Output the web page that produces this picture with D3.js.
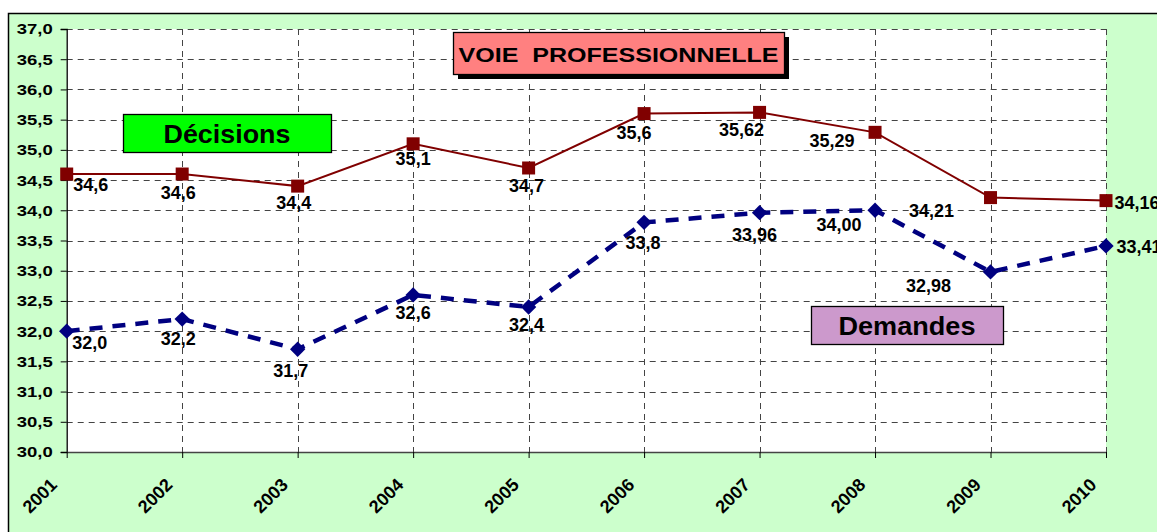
<!DOCTYPE html>
<html>
<head>
<meta charset="utf-8">
<script src="https://cdn.jsdelivr.net/npm/d3@7"></script>
<style>
  body { margin: 0; background: #fff; }
  svg text { font-family: "Liberation Sans", Arial, sans-serif; font-weight: bold; }
</style>
</head>
<body>
<svg id="chart" width="1157" height="532"></svg>
<script>
var years = ["2001", "2002", "2003", "2004", "2005", "2006", "2007", "2008", "2009", "2010"];
var decisions = [34.6, 34.6, 34.4, 35.1, 34.7, 35.6, 35.62, 35.29, 34.21, 34.16];
var demandes = [32.0, 32.2, 31.7, 32.6, 32.4, 33.8, 33.96, 34.00, 32.98, 33.41];
var decisionLabels = ["34,6", "34,6", "34,4", "35,1", "34,7", "35,6", "35,62", "35,29", "34,21", "34,16"];
var demandeLabels = ["32,0", "32,2", "31,7", "32,6", "32,4", "33,8", "33,96", "34,00", "32,98", "33,41"];
var yTicks = [30, 30.5, 31, 31.5, 32, 32.5, 33, 33.5, 34, 34.5, 35, 35.5, 36, 36.5, 37];

// label offsets (dx, dy) from the point, Excel-style manual placement
var decOff = [[24, 11], [-4, 19], [-4, 17], [0, 15], [-2, 18], [-10, 19], [-18, 18], [-43, 9], [-59, 13], [31, 2]];
var demOff = [[23, 12], [-4, 20], [-7, 22], [0, 18], [-2, 18], [-1, 21], [-5, 22], [-36, 15], [-62, 14], [33, 1]];

var svg = d3.select("#chart");
var pLeft = 66.7, pRight = 1106, pTop = 29, pBottom = 452;

// outer chart area
svg.append("rect").attr("x", 8.5).attr("y", 13.5).attr("width", 1170).attr("height", 540)
  .attr("fill", "#ccffcc").attr("stroke", "#000").attr("stroke-width", 1.5);

var x = d3.scalePoint().domain(years).range([pLeft, pRight]);
var y = d3.scaleLinear().domain([30, 37]).range([pBottom, pTop]);

svg.append("rect").attr("x", pLeft).attr("y", pTop).attr("width", pRight - pLeft).attr("height", pBottom - pTop)
  .attr("fill", "#fff");

// grid
svg.append("g").selectAll("line").data(yTicks.slice(1)).enter().append("line")
  .attr("x1", pLeft).attr("x2", pRight)
  .attr("y1", function(d) { return Math.round(y(d)) + 0.5; })
  .attr("y2", function(d) { return Math.round(y(d)) + 0.5; })
  .attr("stroke", "#444").attr("stroke-dasharray", "6,5");
svg.append("g").selectAll("line").data(years.slice(1)).enter().append("line")
  .attr("x1", function(d) { return Math.round(x(d)) + 0.5; })
  .attr("x2", function(d) { return Math.round(x(d)) + 0.5; })
  .attr("y1", pTop).attr("y2", pBottom)
  .attr("stroke", "#444").attr("stroke-dasharray", "6,5");

// axes
var yAxis = svg.append("g").attr("transform", "translate(" + pLeft + ",0)")
  .call(d3.axisLeft(y).tickValues(yTicks).tickSize(6).tickPadding(8)
    .tickFormat(function(d) { return d3.format(".1f")(d).replace(".", ","); }));
yAxis.select(".domain").attr("stroke", "#000").attr("stroke-width", 1.3);
yAxis.selectAll("text").attr("font-size", 15.5).attr("fill", "#000")
  .attr("textLength", 36).attr("lengthAdjust", "spacingAndGlyphs");

var xAxis = svg.append("g").attr("transform", "translate(0," + pBottom + ")")
  .call(d3.axisBottom(x).tickSize(6).tickSizeOuter(0).tickPadding(4));
xAxis.select(".domain").attr("stroke", "#444").attr("stroke-width", 1.3);
xAxis.selectAll("text").attr("font-size", 18).attr("fill", "#000")
  .attr("text-anchor", "end").attr("dy", 0).attr("y", 0)
  .attr("transform", "translate(-9,34) rotate(-45)");

// lines
var line = function(vals) {
  return d3.line().x(function(d, i) { return x(years[i]); }).y(function(d) { return y(d); })(vals);
};
svg.append("path").attr("d", line(demandes)).attr("fill", "none")
  .attr("stroke", "#000080").attr("stroke-width", 4.5).attr("stroke-dasharray", "13,10");
svg.append("path").attr("d", line(decisions)).attr("fill", "none")
  .attr("stroke", "#800000").attr("stroke-width", 2);

svg.append("g").selectAll("rect").data(decisions).enter().append("rect")
  .attr("x", function(d, i) { return x(years[i]) - 6.5; })
  .attr("y", function(d) { return y(d) - 6.5; })
  .attr("width", 13).attr("height", 13).attr("fill", "#800000");
svg.append("g").selectAll("path").data(demandes).enter().append("path")
  .attr("d", d3.symbol().type(d3.symbolDiamond2).size(150))
  .attr("transform", function(d, i) { return "translate(" + x(years[i]) + "," + y(d) + ")"; })
  .attr("fill", "#000080");

// data labels
svg.append("g").selectAll("text").data(decisions).enter().append("text")
  .attr("x", function(d, i) { return x(years[i]) + decOff[i][0]; })
  .attr("y", function(d, i) { return y(d) + decOff[i][1]; })
  .attr("text-anchor", "middle").attr("dominant-baseline", "central")
  .attr("font-size", 18).attr("fill", "#000")
  .text(function(d, i) { return decisionLabels[i]; });
svg.append("g").selectAll("text").data(demandes).enter().append("text")
  .attr("x", function(d, i) { return x(years[i]) + demOff[i][0]; })
  .attr("y", function(d, i) { return y(d) + demOff[i][1]; })
  .attr("text-anchor", "middle").attr("dominant-baseline", "central")
  .attr("font-size", 18).attr("fill", "#000")
  .text(function(d, i) { return demandeLabels[i]; });

// boxes
function box(x0, y0, w, h, fill, txt, size, len, shadow) {
  if (shadow) svg.append("rect").attr("x", x0 + 5).attr("y", y0 + 5).attr("width", w).attr("height", h).attr("fill", "#000");
  svg.append("rect").attr("x", x0 + 0.5).attr("y", y0 + 0.5).attr("width", w).attr("height", h)
    .attr("fill", fill).attr("stroke", "#000").attr("stroke-width", 1.3);
  svg.append("text").attr("x", x0 + w / 2).attr("y", y0 + h / 2 + 1)
    .attr("text-anchor", "middle").attr("dominant-baseline", "central")
    .attr("font-size", size).attr("fill", "#000")
    .attr("textLength", len).attr("lengthAdjust", "spacingAndGlyphs").text(txt);
}
box(453, 32, 331, 42, "#ff8080", "VOIE\u00a0\u00a0PROFESSIONNELLE", 21, 320, true);
box(123, 114, 208, 38, "#00ff00", "Décisions", 25, 127, false);
box(811, 306, 192, 38, "#cc99cc", "Demandes", 25, 137, false);
</script>
</body>
</html>
